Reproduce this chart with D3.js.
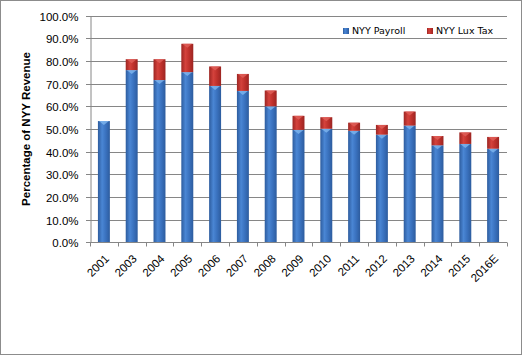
<!DOCTYPE html>
<html><head><meta charset="utf-8">
<script src="https://cdn.jsdelivr.net/npm/d3@7"></script>
<style>body{margin:0;background:#fff}svg{display:block}</style>
</head><body>
<script>
const categories = ["2001","2003","2004","2005","2006","2007","2008","2009","2010","2011","2012","2013","2014","2015","2016E"];
const payroll = [53.5,76.0,71.6,75.1,69.0,66.8,60.0,49.6,50.1,49.2,47.5,51.5,42.8,43.4,41.3];
const luxTax  = [0,4.8,9.2,12.5,8.6,7.5,7.0,6.2,5.1,3.6,4.3,6.2,4.1,5.1,5.2];
const yTicks = [0,10,20,30,40,50,60,70,80,90,100];
const seriesNames = ["NYY Payroll","NYY Lux Tax"];

const W=522,H=355;
const svg=d3.select("body").append("svg").attr("width",W).attr("height",H);
svg.append("rect").attr("x",0.5).attr("y",0.5).attr("width",W-1).attr("height",H-1).attr("fill","#fff").attr("stroke","#8c8c8c");

const defs=svg.append("defs");
function grad(id,edge,mid,light){
  const g=defs.append("linearGradient").attr("id",id).attr("x1","0").attr("x2","1").attr("y1","0").attr("y2","0");
  g.append("stop").attr("offset","0%").attr("stop-color",edge);
  g.append("stop").attr("offset","35%").attr("stop-color",light);
  g.append("stop").attr("offset","65%").attr("stop-color",mid);
  g.append("stop").attr("offset","100%").attr("stop-color",edge);
}
grad("gb","#2d5c9e","#3a72bf","#4a86d4");
grad("gr","#9c2522","#bf312c","#d4423c");

const x0=90,x1=507,yTop=15.7,yBot=242.3;
const x=d3.scaleBand().domain(categories).range([x0,x1]).paddingInner(0.57).paddingOuter(0.285);
const y=d3.scaleLinear().domain([0,100]).range([yBot,yTop]);

// gridlines
const g=svg.append("g");
g.selectAll("line.grid").data(yTicks).join("line")
 .attr("x1",x0-4).attr("x2",x1).attr("y1",d=>Math.round(y(d))+0.5).attr("y2",d=>Math.round(y(d))+0.5)
 .attr("stroke","#868686").attr("stroke-width",1);

const yAxis=svg.append("g").attr("transform",`translate(${x0+0.5},0)`)
 .call(d3.axisLeft(y).tickValues(yTicks).tickSize(0).tickPadding(12).tickFormat(d=>d.toFixed(1)+"%"));
yAxis.select(".domain").attr("stroke","#868686");
yAxis.selectAll("text").attr("font-family","Liberation Sans, Arial, sans-serif").attr("font-size","11.5px").attr("fill","#000")
 .attr("transform",d=>`translate(0,${Math.round(y(d))+0.5-y(d)})`);

// bars
const stacked=categories.map((c,i)=>({c,p:payroll[i],l:luxTax[i]}));
const bars=svg.append("g");
function seg(c,lo,hi,fill,tri){
  const bx=x(c),bw=x.bandwidth();
  const top=y(hi),bot=y(lo);
  bars.append("rect").attr("x",bx).attr("y",top).attr("width",bw).attr("height",bot-top).attr("fill",`url(#${fill})`);
  bars.append("path").attr("d",`M${bx+1},${top} L${bx+bw-1},${top} L${bx+bw/2},${top+4} Z`).attr("fill",tri).attr("opacity",0.8);
}
stacked.forEach(d=>{
  seg(d.c,0,d.p,"gb","#7fb6ef");
  if(d.l>0) seg(d.c,d.p,d.p+d.l,"gr","#e0605a");
});

// x axis
const xAxis=svg.append("g").attr("transform",`translate(0,${Math.round(yBot)+0.5})`);
xAxis.append("line").attr("x1",x0).attr("x2",x1).attr("stroke","#868686");
const step=(x1-x0)/categories.length;
xAxis.selectAll("line.tk").data(d3.range(categories.length+1)).join("line")
 .attr("x1",i=>Math.round(x0+i*step)+0.5).attr("x2",i=>Math.round(x0+i*step)+0.5).attr("y1",0).attr("y2",4).attr("stroke","#868686");
xAxis.selectAll("text").data(categories).join("text")
 .attr("transform",d=>`translate(${x(d)+x.bandwidth()/2+3},14) rotate(-45)`)
 .attr("text-anchor","end").attr("dy","0.35em")
 .attr("font-family","Liberation Sans, Arial, sans-serif").attr("font-size","11.5px").text(d=>d);

// y label
svg.append("text").attr("transform",`translate(30,${(yTop+yBot)/2}) rotate(-90)`).attr("text-anchor","middle")
 .attr("font-family","Liberation Sans, Arial, sans-serif").attr("font-size","11.5px").attr("font-weight","bold").text("Percentage of NYY Revenue");

// legend
const leg=[{n:seriesNames[0],f:"gb",x:343},{n:seriesNames[1],f:"gr",x:427}];
leg.forEach(l=>{
  svg.append("rect").attr("x",l.x).attr("y",28).attr("width",6).attr("height",6).attr("fill",`url(#${l.f})`);
  svg.append("text").attr("x",l.x+9).attr("y",31).attr("dy","0.35em").attr("font-family","DejaVu Sans, Verdana, sans-serif").attr("font-size","9.5px").text(l.n);
});
</script>
</body></html>
